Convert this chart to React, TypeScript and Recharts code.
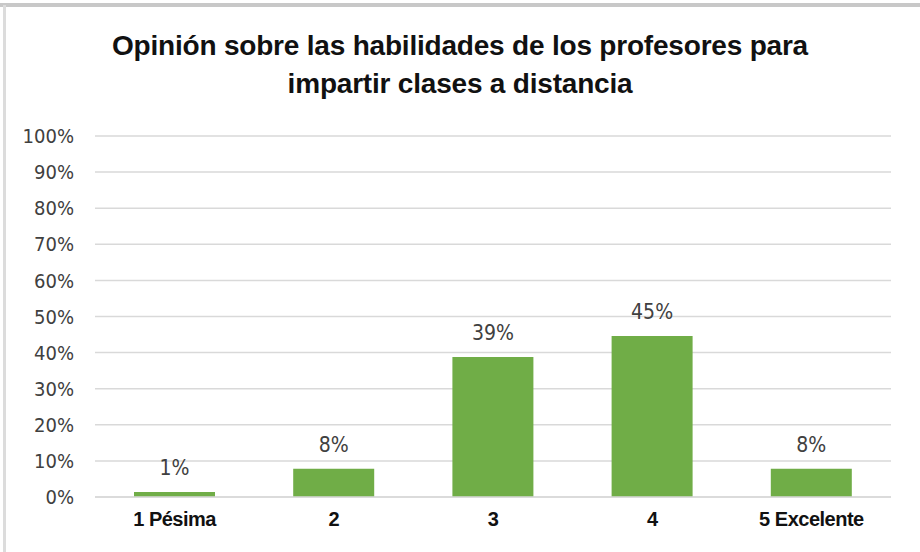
import React from "react";
import { BarChart, Bar, XAxis, YAxis, CartesianGrid, LabelList } from "recharts";

const categories = ["1 Pésima", "2", "3", "4", "5 Excelente"];
const values = [1.4, 7.8, 38.8, 44.6, 7.8];
const yTicks = [0, 10, 20, 30, 40, 50, 60, 70, 80, 90, 100];
const titleLines = ["Opinión sobre las habilidades de los profesores para", "impartir clases a distancia"];

const data = categories.map((c, i) => ({ name: c, value: values[i] }));

const numFont = "'DejaVu Sans Condensed', 'DejaVu Sans', sans-serif";

export default function App() {
  return (
    <div style={{ position: "absolute", left: 0, top: 0, width: 920, height: 552, background: "#fff", overflow: "hidden" }}>
      <div style={{ position: "absolute", left: 0, top: 0 }}>
        <BarChart width={920} height={552} data={data} margin={{ top: 136, right: 29, bottom: 20, left: 15 }} barCategoryGap="24.5%">
          <CartesianGrid vertical={false} stroke="#d9d9d9" strokeWidth={1.5} />
          <XAxis
            dataKey="name"
            axisLine={{ stroke: "#d9d9d9", strokeWidth: 1.5 }}
            tickLine={false}
            height={35}
            tickMargin={9}
            tick={{ fill: "#111", fontSize: 20, fontWeight: "bold", fontFamily: "'Liberation Sans', Arial, sans-serif", letterSpacing: -0.5 }}
          />
          <YAxis
            domain={[0, 100]}
            ticks={yTicks}
            interval={0}
            axisLine={false}
            tickLine={false}
            tickSize={0}
            tickMargin={21}
            width={80}
            tickFormatter={(v: number) => `${v}%`}
            tick={{ fill: "#404040", fontSize: 20, fontFamily: numFont }}
          />
          <Bar dataKey="value" fill="#70AD47" isAnimationActive={false}>
            <LabelList
              dataKey="value"
              position="top"
              offset={17}
              formatter={(v: number) => `${Math.round(v)}%`}
              style={{ fill: "#404040", fontSize: 21, fontFamily: numFont }}
            />
          </Bar>
        </BarChart>
      </div>
      <div style={{ position: "absolute", left: 0, top: 3, width: 920, height: 4, background: "#c8c8c8" }} />
      <div style={{ position: "absolute", left: 3, top: 5, width: 3, height: 560, background: "#dcdcdc" }} />
      <div style={{ position: "absolute", left: 0, top: 27, width: 920, textAlign: "center", fontFamily: "'Liberation Sans', Arial, sans-serif", fontWeight: "bold", fontSize: 28, lineHeight: "38px", color: "#111", letterSpacing: -0.2 }}>
        {titleLines.map((t) => (
          <div key={t}>{t}</div>
        ))}
      </div>
    </div>
  );
}
